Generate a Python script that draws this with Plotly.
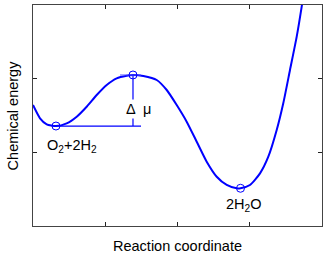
import plotly.graph_objects as go

# energy curve (x: reaction coordinate, y: chemical energy)
curve_x = [0.0, 0.097, 0.190, 0.318, 0.466, 0.605, 0.743, 0.882, 1.020, 1.158, 1.297, 1.384,
           1.527, 1.712, 1.851, 1.989, 2.127, 2.266, 2.404, 2.543, 2.681, 2.819, 2.872,
           3.003, 3.142, 3.257, 3.373, 3.464, 3.557, 3.650, 3.719, 3.760]
curve_y = [1.642, 1.462, 1.380, 1.357, 1.394, 1.484, 1.619, 1.778, 1.914, 2.005, 2.040, 2.050,
           2.036, 1.982, 1.846, 1.642, 1.416, 1.144, 0.873, 0.669, 0.557, 0.511, 0.512,
           0.557, 0.715, 0.941, 1.303, 1.666, 2.118, 2.570, 2.977, 3.250]

# stationary points: reactants, transition state, product
point_x = [0.318, 1.384, 2.872]
point_y = [1.357, 2.050, 0.512]
point_names = ["O<sub>2</sub>+2H<sub>2</sub>", "", "2H<sub>2</sub>O"]

dmu_x_end = 1.495
cap_x = [1.204, 1.495]

blue = "rgb(0,0,255)"
font = dict(family="Liberation Sans, Arial", size=14.5, color="black")

fig = go.Figure()
fig.add_trace(go.Scatter(x=curve_x, y=curve_y, mode="lines", line=dict(color=blue, width=2, shape="spline", smoothing=0.6)))
# delta mu bracket
fig.add_trace(go.Scatter(x=[point_x[0], dmu_x_end], y=[point_y[0], point_y[0]], mode="lines", line=dict(color=blue, width=1.2)))
fig.add_trace(go.Scatter(x=[point_x[1], point_x[1]], y=[point_y[1], point_y[0]], mode="lines", line=dict(color=blue, width=1.2)))
fig.add_trace(go.Scatter(x=cap_x, y=[point_y[1], point_y[1]], mode="lines", line=dict(color="rgba(80,80,255,0.8)", width=1.2)))
fig.add_trace(go.Scatter(x=point_x, y=point_y, mode="markers",
                         marker=dict(symbol="circle-open", size=8, color=blue, line=dict(width=1))))

fig.add_annotation(x=1.467, y=1.588, text="Δ  μ", showarrow=False, font=font, bgcolor="white")
fig.add_annotation(x=0.54, y=1.08, text=point_names[0], showarrow=False, font=font)
fig.add_annotation(x=2.907, y=0.28, text=point_names[2], showarrow=False, font=font)

fig.add_annotation(x=0.5, y=-0.045, xref="paper", yref="paper", text="Reaction coordinate",
                   showarrow=False, font=font, yanchor="top")
fig.add_annotation(x=-0.035, y=0.5, xref="paper", yref="paper", text="Chemical energy",
                   showarrow=False, font=font, textangle=-90, xanchor="right")

axis = dict(showgrid=False, zeroline=False, showline=True, linecolor="#444", linewidth=1, mirror="ticks",
            ticks="inside", ticklen=4, tickcolor="#222", showticklabels=False)
fig.update_xaxes(range=[0, 4], tickvals=[1, 2, 3], **axis)
fig.update_yaxes(range=[0, 3], tickvals=[1, 2], **axis)
fig.update_layout(width=327, height=255, margin=dict(l=33, r=5, t=5, b=29),
                  plot_bgcolor="white", paper_bgcolor="white", showlegend=False)
fig.write_html("out.html", config={"displayModeBar": False},
               post_script="document.body.style.margin='0';")
